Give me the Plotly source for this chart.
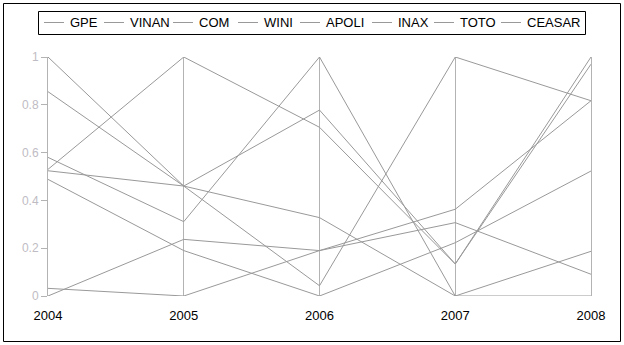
import plotly.graph_objects as go

# ---- data ----
years = [2004, 2005, 2006, 2007, 2008]
series_names = ["GPE", "VINAN", "COM", "WINI", "APOLI", "INAX", "TOTO", "CEASAR"]
GPE = [0.53, 1.0, 0.706, 0.134, 1.0]
VINAN = [1.0, 0.46, 0.778, 0.134, 0.97]
COM = [0.58, 0.311, 1.0, 0.0, 0.187]
WINI = [0.524, 0.46, 0.328, 0.0, 0.0]
APOLI = [0.0, 0.237, 0.19, 0.363, 0.817]
INAX = [0.855, 0.46, 0.043, 1.0, 0.817]
TOTO = [0.488, 0.19, 0.0, 0.223, 0.523]
CEASAR = [0.032, 0.0, 0.19, 0.307, 0.091]
series_values = [GPE, VINAN, COM, WINI, APOLI, INAX, TOTO, CEASAR]
y_tickvals = [0, 0.2, 0.4, 0.6, 0.8, 1]
y_ticktext = ["0", "0.2", "0.4", "0.6", "0.8", "1"]

# ---- layout constants (pixels) ----
W, H = 624, 345
L, R, T, B = 48, 591, 57, 296
LINE_COLOR = "#999999"
GRID_COLOR = "#b3b3b3"
FONT = "Liberation Sans, Arial, sans-serif"
legend_text_x = [71, 131, 200, 265, 327, 399, 461, 528]
legend_y = 22.5
ANN_PAD = 3  # annotation inner padding compensation


def px_x(p):
    return (p - L) / (R - L)


def px_y(p):
    return (B - p) / (B - T)


fig = go.Figure()
for name, vals in zip(series_names, series_values):
    fig.add_trace(go.Scatter(
        x=years, y=vals, name=name, mode="lines",
        line=dict(color=LINE_COLOR, width=1),
        showlegend=False, hoverinfo="skip",
    ))

shapes = []
annotations = []
# outer border
shapes.append(dict(type="rect", xref="paper", yref="paper",
                   x0=px_x(3.5), x1=px_x(620.5), y0=px_y(3.5), y1=px_y(341.5),
                   line=dict(color="black", width=1), layer="below"))
# legend box
shapes.append(dict(type="rect", xref="paper", yref="paper",
                   x0=px_x(38.5), x1=px_x(585.5), y0=px_y(11.5), y1=px_y(34.5),
                   line=dict(color="black", width=1)))
for name, tx in zip(series_names, legend_text_x):
    shapes.append(dict(type="line", xref="paper", yref="paper",
                       x0=px_x(tx - 27), x1=px_x(tx - 7),
                       y0=px_y(legend_y), y1=px_y(legend_y),
                       line=dict(color=LINE_COLOR, width=1)))
    annotations.append(dict(text=name, xref="paper", yref="paper",
                            x=px_x(tx - ANN_PAD), y=px_y(legend_y + 0.5),
                            xanchor="left", yanchor="middle", showarrow=False,
                            font=dict(family=FONT, size=13, color="black")))

fig.update_layout(
    width=W, height=H,
    margin=dict(l=L, r=W - R, t=T, b=H - B),
    paper_bgcolor="white", plot_bgcolor="white",
    font=dict(family=FONT, size=13, color="black"),
    shapes=shapes, annotations=annotations,
    showlegend=False,
    xaxis=dict(range=[2004, 2008], tickvals=years, ticktext=[str(y) for y in years],
               showgrid=True, gridcolor=GRID_COLOR, gridwidth=1,
               zeroline=False, showline=False, ticks="",
               ticklabelstandoff=10,
               tickfont=dict(family=FONT, size=13, color="black")),
    yaxis=dict(range=[0, 1], tickvals=y_tickvals, ticktext=y_ticktext,
               showgrid=False, zeroline=False,
               showline=True, linecolor=GRID_COLOR, linewidth=1, mirror=True,
               ticks="outside", ticklen=6, tickcolor=GRID_COLOR,
               tickfont=dict(family=FONT, size=12, color="#c0bcc4")),
)

fig.write_html("out.html")
